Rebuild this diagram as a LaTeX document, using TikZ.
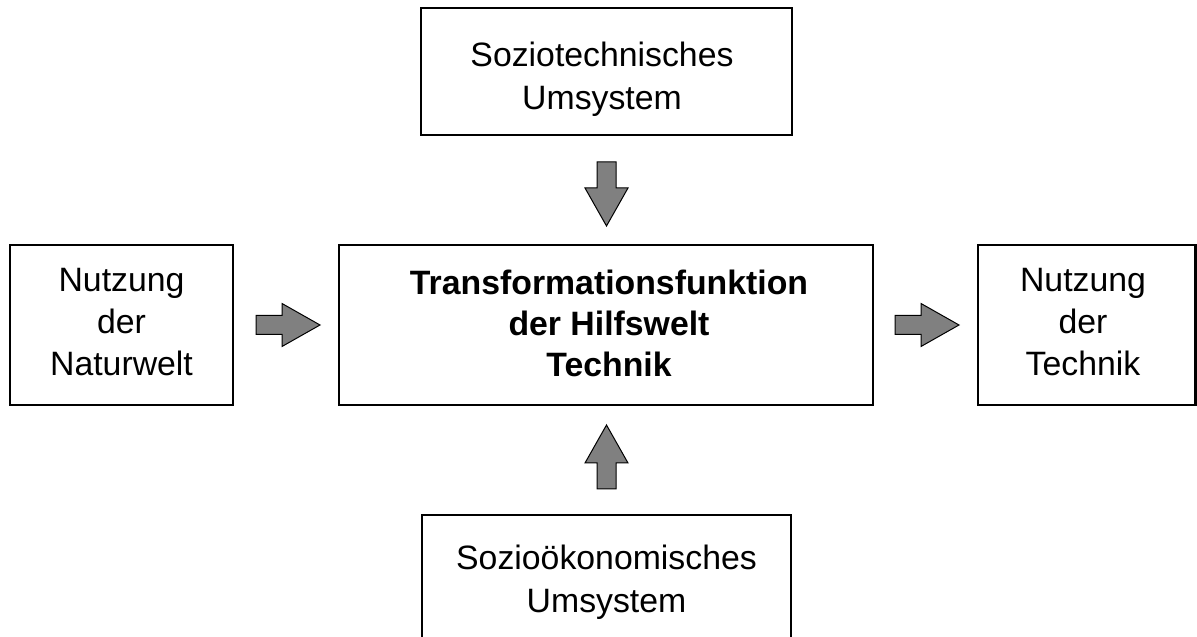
\documentclass[tikz,border=0pt]{standalone}
\usepackage{fontspec}
\setmainfont{Liberation Sans}
\usetikzlibrary{calc}
\begin{document}
\begin{tikzpicture}[x=1pt,y=1pt,
  boxstyle/.style={draw=black, line width=2.6pt, outer sep=0pt, inner sep=0pt, fill=white,
    align=center, font=\fontsize{33.8}{42}\selectfont},
  arrowstyle/.style={draw=black, line width=1pt, fill=black!50, line join=miter},
  blockarrow/.pic={\path[arrowstyle] (0,-9.5) -- (26,-9.5) -- (26,-21.5) -- (64,0) -- (26,21.5) -- (26,9.5) -- (0,9.5) -- cycle;}
]
\useasboundingbox (0,0) rectangle (1197,637);
\clip (0,0) rectangle (1197,637);
\node[boxstyle, minimum width=371pt, minimum height=127pt] (top) at (606.5,565.5) {};
\node[align=center, font=\fontsize{33.8}{43}\selectfont] at (602,558) {Soziotechnisches\\Umsystem};
\node[boxstyle, minimum width=534pt, minimum height=160pt] (mid) at (606,312) {};
\node[align=center, font=\fontsize{33.8}{41}\bfseries\selectfont] at (609,314) {Transformationsfunktion\\der Hilfswelt\\Technik};
\node[boxstyle, minimum width=223pt, minimum height=160pt] (left) at (121.5,312) {};
\node[align=center, font=\fontsize{33.8}{42}\selectfont] at (121.5,315) {Nutzung\\der\\Naturwelt};
\node[boxstyle, minimum width=217.5pt, minimum height=160pt] (right) at (1086.75,312) {};
\node[align=center, font=\fontsize{33.8}{42}\selectfont] at (1083,315) {Nutzung\\der\\Technik};
\node[boxstyle, minimum width=369pt, minimum height=127pt] (bot) at (606.5,58.5) {};
\node[align=center, font=\fontsize{33.8}{43}\selectfont] at (606.5,55) {Sozioökonomisches\\Umsystem};
\pic[rotate=-90] at ($(top.south)+(0,-27)$) {blockarrow};
\pic[rotate=90] at ($(bot.north)+(0,26)$) {blockarrow};
\pic at ($(left.east)+(23,0)$) {blockarrow};
\pic at ($(mid.east)+(22,0)$) {blockarrow};
\end{tikzpicture}
\end{document}
